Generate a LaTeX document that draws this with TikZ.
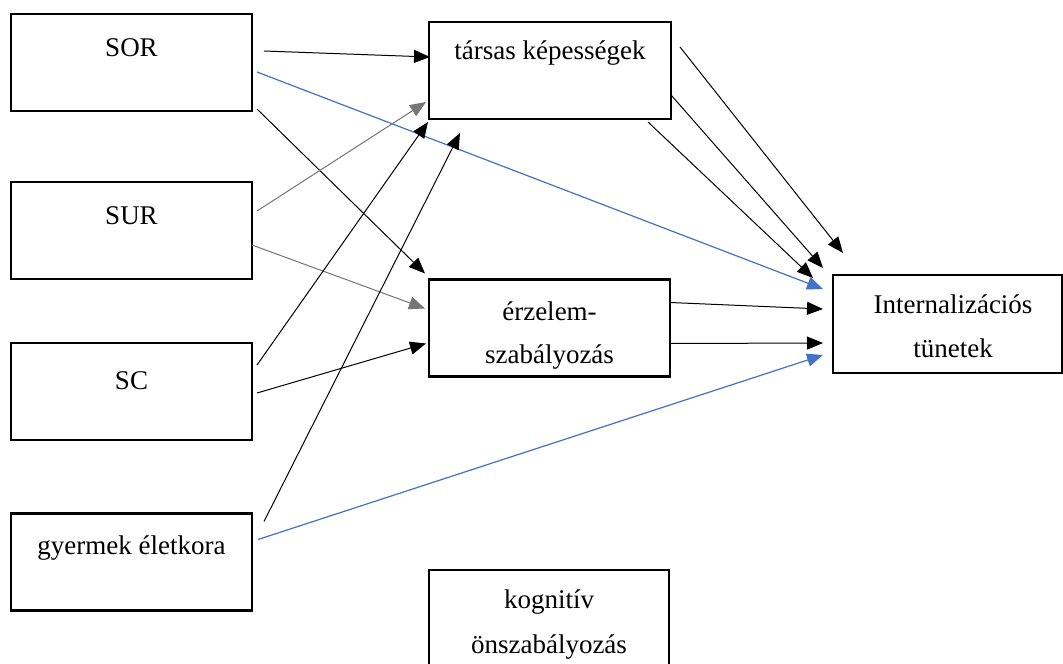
\documentclass[tikz,border=0pt]{standalone}
\usepackage{fontspec}
\setmainfont{Liberation Serif}
\usetikzlibrary{arrows.meta}
\definecolor{wblue}{RGB}{68,114,196}
\definecolor{wgray}{RGB}{118,118,118}
\begin{document}
\begin{tikzpicture}[x=1pt,y=-1pt,
  box/.style={draw=black,line width=2.2pt,minimum width=241pt,minimum height=97pt,inner sep=0pt,outer sep=0pt},
  lbl/.style={anchor=base,inner sep=0pt,font=\fontsize{27}{32}\selectfont},
  arr/.style={line width=1pt,-{Triangle[length=16pt,width=13pt]}},
  garr/.style={arr,draw=wgray,fill=wgray},
  barr/.style={arr,draw=wblue,fill=wblue,line width=1.2pt}]
\useasboundingbox (0,0) rectangle (1063,664);
% boxes
\node[box] (sor) at (131.5,62.5) {};
\node[box] (sur) at (131.5,230.5) {};
\node[box] (sc) at (131.5,391.5) {};
\node[box] (gy) at (131.5,562) {};
\node[box,minimum width=242pt] (tar) at (550,70.5) {};
\node[box] (erz) at (549.5,328) {};
\node[box,minimum width=240pt] (kog) at (549,618.5) {};
\node[box,minimum width=229pt,minimum height=98pt] (int) at (947.5,324) {};
% texts
\node[lbl] (tsor) at (131.5,56) {SOR};
\node[lbl] (tsur) at (131.5,224) {SUR};
\node[lbl] (tsc) at (131.5,389) {SC};
\node[lbl] (tgy) at (131.5,554) {gyermek életkora};
\node[lbl] (ttar) at (550,59) {társas képességek};
\node[lbl] (terz1) at (549.5,320) {érzelem-};
\node[lbl] (terz2) at (549.5,363) {szabályozás};
\node[lbl] (tkog1) at (549,608) {kognitív};
\node[lbl] (tkog2) at (549,653) {önszabályozás};
\node[lbl] (tint1) at (953,313) {Internalizációs};
\node[lbl] (tint2) at (953,357) {tünetek};
% arrows
\draw[arr] ([shift={(12,37)}]sor.north east) -- ([shift={(1,35)}]tar.north west);
\draw[barr] ([shift={(5,58)}]sor.north east) -- ([shift={(-10,14)}]int.north west);
\draw[arr] ([shift={(5,-2)}]sor.south east) -- ([shift={(-4,-6)}]erz.north west);
\draw[garr] ([shift={(5,29)}]sur.north east) -- ([shift={(-3,-17)}]tar.south west);
\draw[garr] ([shift={(0,63)}]sur.north east) -- ([shift={(-4,29)}]erz.north west);
\draw[arr] ([shift={(5,22)}]sc.north east) -- ([shift={(-1,3)}]tar.south west);
\draw[arr] ([shift={(5,50)}]sc.north east) -- ([shift={(-3,64)}]erz.north west);
\draw[arr] ([shift={(12,8)}]gy.north east) -- ([shift={(31,14)}]tar.south west);
\draw[barr] ([shift={(6,26)}]gy.north east) -- ([shift={(-10,80)}]int.north west);
\draw[arr] ([shift={(9,25)}]tar.north east) -- ([shift={(10,-22)}]int.north west);
\draw[arr] ([shift={(0,73)}]tar.north east) -- ([shift={(-10,-7)}]int.north west);
\draw[arr] ([shift={(-23,3)}]tar.south east) -- ([shift={(-20,3)}]int.north west);
\draw[arr] ([shift={(0,23)}]erz.north east) -- ([shift={(-10,34)}]int.north west);
\draw[arr] ([shift={(0,64)}]erz.north east) -- ([shift={(-10,68)}]int.north west);
\end{tikzpicture}
\end{document}
